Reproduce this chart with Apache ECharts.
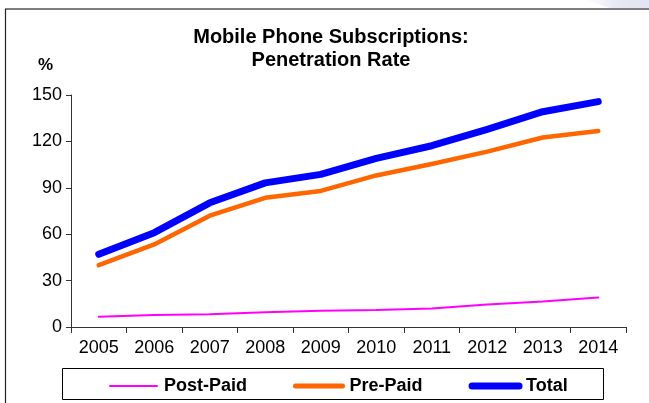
<!DOCTYPE html>
<html>
<head>
<meta charset="utf-8">
<script src="https://cdn.jsdelivr.net/npm/echarts@6/dist/echarts.min.js"></script>
<style>
html,body{margin:0;padding:0;background:#fff;}
#chart{width:649px;height:403px;}
</style>
</head>
<body>
<div id="chart"></div>
<script>
const years = ['2005','2006','2007','2008','2009','2010','2011','2012','2013','2014'];
const postPaid = [6.7, 7.8, 8.2, 9.5, 10.5, 11, 12, 14.5, 16.5, 19];
const prePaid = [40, 53.4, 72, 83.5, 88, 98, 105.4, 113.4, 122.5, 126.7];
const total = [47, 61, 80.3, 93.2, 98.7, 109, 117.2, 127.8, 139.2, 145.7];
const yTicks = {min: 0, max: 150, interval: 30};

const chart = echarts.init(document.getElementById('chart'), null, {renderer: 'canvas'});
const font = 'Arial, "Liberation Sans", sans-serif';
chart.setOption({
  animation: false,
  backgroundColor: '#ffffff',
  title: [{
    text: 'Mobile Phone Subscriptions:\nPenetration Rate',
    left: 326, top: 21, textAlign: 'center',
    textStyle: {fontFamily: font, fontSize: 20, fontWeight: 'bold', color: '#000', lineHeight: 23}
  }, {
    text: '%', left: 33, top: 52,
    textStyle: {fontFamily: font, fontSize: 17, fontWeight: 'bold', color: '#000'}
  }],
  graphic: [
    {type: 'polygon', shape: {points: [[585,0],[649,0],[649,8],[610,8]]},
     style: {fill: new echarts.graphic.LinearGradient(0,0,1,0,[{offset:0,color:'#ffffff'},{offset:0.5,color:'#e8e8f4'},{offset:1,color:'#e4e4f2'}])}, silent: true},
    {type: 'line', shape: {x1: 5, y1: 9, x2: 649, y2: 9}, style: {stroke: '#7f7f7f', lineWidth: 2}, silent: true},
    {type: 'line', shape: {x1: 5.5, y1: 9, x2: 5.5, y2: 403}, style: {stroke: '#222', lineWidth: 1.2}, silent: true},
    {type: 'rect', shape: {x: 62.5, y: 368.5, width: 541, height: 31}, style: {fill: 'none', stroke: '#000', lineWidth: 1}, silent: true}
  ],
  legend: {
    left: 109, top: 377, padding: 0,
    itemWidth: 47, itemHeight: 14, itemGap: 46,
    itemStyle: {opacity: 0},
    textStyle: {fontFamily: font, fontSize: 18, fontWeight: 'bold', color: '#000', padding: [0,0,0,2]},
    data: [
      {name: 'Post-Paid', lineStyle: {width: 2, cap: 'round'}},
      {name: 'Pre-Paid', lineStyle: {width: 5, cap: 'round'}},
      {name: 'Total', lineStyle: {width: 7, cap: 'round'}}
    ]
  },
  grid: {left: 71, right: 23, top: 95, bottom: 76, containLabel: false},
  xAxis: {
    type: 'category', data: years, boundaryGap: true,
    axisLine: {lineStyle: {color: '#333', width: 1}},
    axisTick: {show: true, length: 6, alignWithLabel: false, lineStyle: {color: '#333'}},
    axisLabel: {fontFamily: font, fontSize: 18, color: '#000', margin: 12}
  },
  yAxis: {
    type: 'value', min: yTicks.min, max: yTicks.max, interval: yTicks.interval,
    axisLine: {show: true, lineStyle: {color: '#333', width: 1}},
    axisTick: {show: true, length: 5, lineStyle: {color: '#333'}},
    splitLine: {show: false},
    axisLabel: {fontFamily: font, fontSize: 18, color: '#000', margin: 9}
  },
  series: [
    {name: 'Post-Paid', type: 'line', data: postPaid, symbol: 'none', color: '#ff00ff',
     lineStyle: {width: 2, color: '#ff00ff', cap: 'round'}},
    {name: 'Pre-Paid', type: 'line', data: prePaid, symbol: 'none', color: '#ff6600',
     lineStyle: {width: 4.5, color: '#ff6600', cap: 'round', join: 'round'}},
    {name: 'Total', type: 'line', data: total, symbol: 'none', color: '#0000ff',
     lineStyle: {width: 7, color: '#0000ff', cap: 'round', join: 'round'}}
  ]
});
</script>
</body>
</html>
